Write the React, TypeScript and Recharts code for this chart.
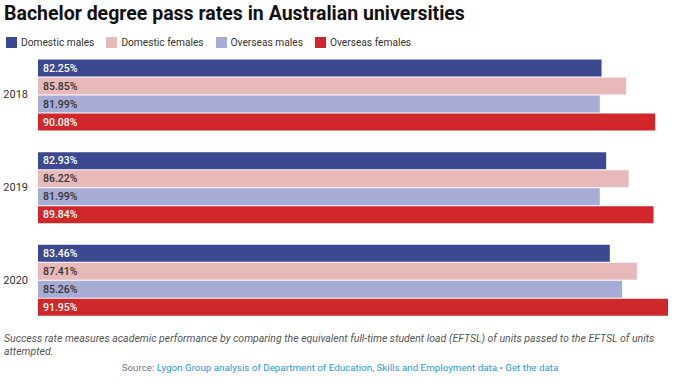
import { Bar, BarChart, LabelList, XAxis, YAxis } from 'recharts';

const years = ['2018', '2019', '2020'];
const domesticMales = [82.25, 82.93, 83.46];
const domesticFemales = [85.85, 86.22, 87.41];
const overseasMales = [81.99, 81.99, 85.26];
const overseasFemales = [90.08, 89.84, 91.95];

const SERIES = [
    { key: 'dm', name: 'Domestic males', color: '#3c4991', text: '#ffffff' },
    { key: 'df', name: 'Domestic females', color: '#e8b9b9', text: '#333333' },
    { key: 'om', name: 'Overseas males', color: '#a7acd4', text: '#333333' },
    { key: 'of', name: 'Overseas females', color: '#d0272a', text: '#ffffff' },
];

const FONT = 'Roboto, "Noto Sans", sans-serif';

const rows = years.map((year, i) => ({
    year,
    dm: domesticMales[i],
    df: domesticFemales[i],
    om: overseasMales[i],
    of: overseasFemales[i],
}));

export default function App() {
    return (
        <div style={{ position: 'absolute', left: 0, top: 0, width: 680, height: 386, fontFamily: FONT, background: '#fff' }}>
            <div style={{ position: 'absolute', left: 4, top: 2, fontSize: 19.5, lineHeight: '24px', fontWeight: 700, color: '#111', whiteSpace: 'nowrap' }}>
                Bachelor degree pass rates in Australian universities
            </div>

            {/* legend */}
            <div style={{ position: 'absolute', left: 6, top: 37, height: 11, display: 'flex', alignItems: 'center', fontSize: 10.2, lineHeight: '11px', color: '#333', whiteSpace: 'nowrap' }}>
                {SERIES.map(s => (
                    <div key={s.key} style={{ display: 'flex', alignItems: 'center', marginRight: 12 }}>
                        <span style={{ width: 11, height: 11, background: s.color, marginRight: 4, display: 'inline-block' }} />
                        <span>{s.name}</span>
                    </div>
                ))}
            </div>

            <div style={{ position: 'absolute', left: 0, top: 48 }}>
                <BarChart
                    width={680}
                    height={278}
                    data={rows}
                    layout="vertical"
                    margin={{ top: 0, right: 12, bottom: 0, left: 0 }}
                    barCategoryGap={11.5}
                    barGap={1}
                >
                    <XAxis type="number" domain={[0, 'dataMax']} hide />
                    <YAxis
                        type="category"
                        dataKey="year"
                        width={38}
                        axisLine={false}
                        tickLine={false}
                        tick={{ fontSize: 11, fill: '#333', fontFamily: FONT }}
                        tickMargin={4}
                    />
                    {SERIES.map(s => (
                        <Bar key={s.key} dataKey={s.key} name={s.name} fill={s.color} isAnimationActive={false}>
                            <LabelList
                                dataKey={s.key}
                                position="insideLeft"
                                offset={5}
                                formatter={(v: any) => `${Number(v).toFixed(2)}%`}
                                style={{ fontSize: 10.5, fontWeight: 500, fill: s.text, fontFamily: FONT }}
                            />
                        </Bar>
                    ))}
                </BarChart>
            </div>

            <div style={{ position: 'absolute', left: 4, top: 333, width: 672, fontSize: 10.5, lineHeight: '12.5px', fontStyle: 'italic', color: '#555', whiteSpace: 'nowrap' }}>
                Success rate measures academic performance by comparing the equivalent full-time student load (EFTSL) of units passed to the EFTSL of units<br />attempted.
            </div>

            <div style={{ position: 'absolute', left: 0, top: 362, width: 680, textAlign: 'center', fontSize: 9.8, lineHeight: '12px', color: '#777', whiteSpace: 'nowrap' }}>
                Source: <span style={{ color: '#2a9ad6' }}>Lygon Group analysis of Department of Education, Skills and Employment data</span> • <span style={{ color: '#2a9ad6' }}>Get the data</span>
            </div>
        </div>
    );
}
